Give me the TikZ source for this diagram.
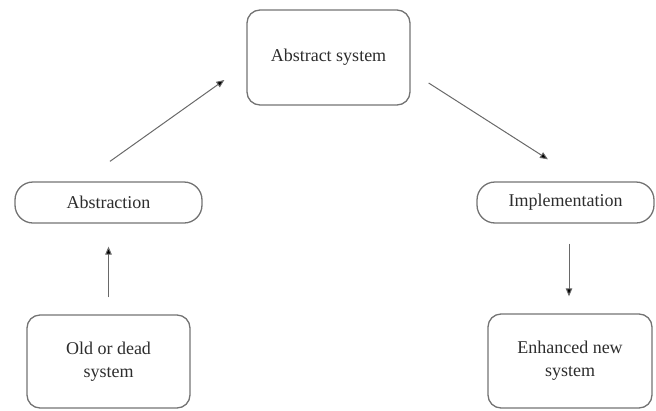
\documentclass[tikz,border=0pt]{standalone}
\usepackage{fontspec}
\setmainfont{Liberation Serif}
\usetikzlibrary{arrows.meta,positioning,calc}
\definecolor{boxline}{RGB}{115,115,115}
\definecolor{arrline}{RGB}{105,105,105}
\definecolor{txt}{RGB}{45,45,45}
\begin{document}
\begin{tikzpicture}[x=1pt,y=-1pt,
  stepbox/.style={draw=boxline,line width=1.3pt,rounded corners=13pt,align=center,
    inner sep=0pt,text=txt,font=\fontsize{18}{23}\selectfont},
  pillbox/.style={stepbox,rounded corners=18pt},
  arr/.style={draw=arrline,line width=1pt,-{Triangle[length=8pt,width=6.5pt,fill=black]}}]
\useasboundingbox (0,0) rectangle (656,410);
\node[stepbox,minimum width=163pt,minimum height=95pt] (abs) at (328.5,57.5) {Abstract system};
\node[pillbox,minimum width=187pt,minimum height=41pt] (abst) at (108.5,202.5) {Abstraction};
\node[pillbox,minimum width=177pt,minimum height=41pt] (impl) at (565.5,202.5) {Implementation};
\node[stepbox,minimum width=163pt,minimum height=93pt] (old) at (108.5,361.5) {Old or dead\\system};
\node[stepbox,minimum width=164pt,minimum height=94pt] (enh) at (570,361) {Enhanced new\\system};
% connector end points
\coordinate (p1) at ($(abst.north)+(1.5,-20)$);
\coordinate (p2) at ($(abs.west)+(-22,22.5)$);
\coordinate (p3) at ($(abs.east)+(18,25.5)$);
\coordinate (p4) at ($(impl.north)+(-17.5,-22)$);
\coordinate (p5) at ($(old.north)+(0,-17)$);
\coordinate (p6) at ($(abst.south)+(0,23)$);
\coordinate (p7) at ($(impl.south)+(3.5,20)$);
\coordinate (p8) at ($(enh.north)+(-1,-17)$);
\draw[arr] (p1) -- (p2);
\draw[arr] (p3) -- (p4);
\draw[arr] (p5) -- (p6);
\draw[arr] (p7) -- (p8);
\end{tikzpicture}
\end{document}
